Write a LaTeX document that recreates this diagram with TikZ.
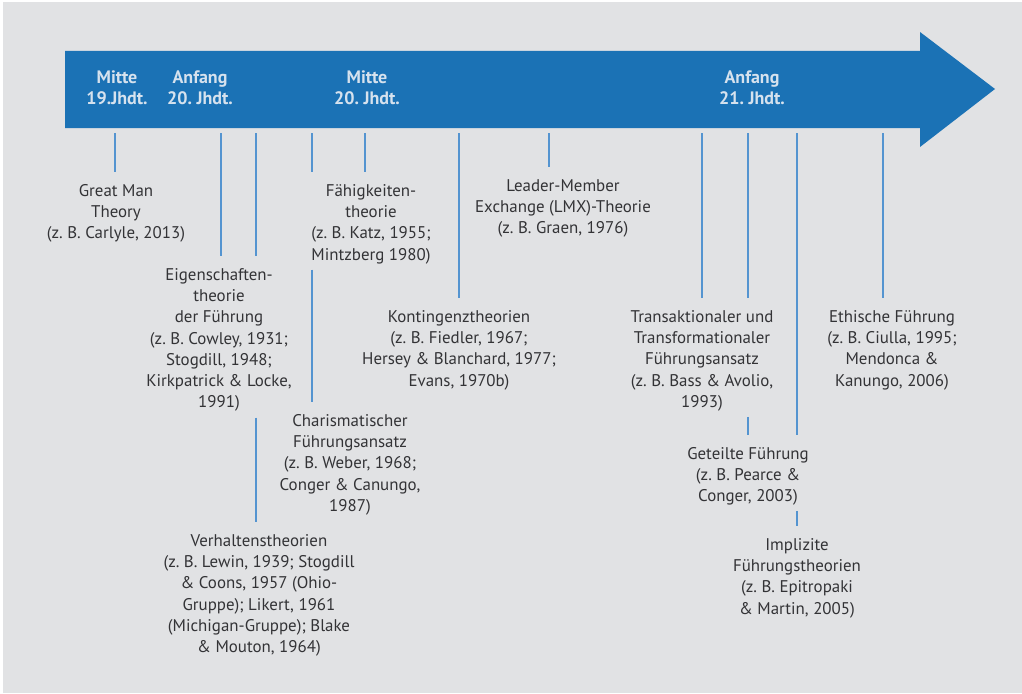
\documentclass[tikz,border=0pt]{standalone}
\usepackage{fontspec}
\setmainfont{PT Sans}
\usepackage{xcolor}
\usepackage{tikz}
\usetikzlibrary{calc,positioning}
\definecolor{bg}{RGB}{225,226,228}
\definecolor{arrowblue}{RGB}{27,114,181}
\definecolor{tickblue}{RGB}{84,148,208}
\definecolor{headtext}{RGB}{214,226,238}
\definecolor{bodytext}{RGB}{51,51,54}
\frenchspacing

\begin{document}
\begin{tikzpicture}[x=1pt,y=-1pt,
    theory/.style={align=center,inner sep=0pt,anchor=north,text=bodytext,
      font=\fontsize{16.9}{21.3}\selectfont,
      execute at begin node=\strut,execute at end node=\strut},
    era/.style={align=center,inner sep=0pt,anchor=north,text=headtext,
      font=\bfseries\fontsize{18}{21}\selectfont,
      execute at begin node=\strut,execute at end node=\strut},
    link/.style={draw=tickblue,line width=1.3pt,shorten >=12pt},
    gap/.style={link,shorten <=3pt}]
        \useasboundingbox (0,0) rectangle (1022,693);
        \fill[bg] (3,2) rectangle (1022,693);
        \fill[arrowblue] (65,51) -- (920,51) -- (920,32) -- (995,89) -- (920,147) -- (920,128) -- (65,128) -- cycle;

        \node[era] (mitte19) at (117,71) {Mitte\\19.Jhdt.};
        \node[era] (anfang20) at (200,71) {Anfang\\20. Jhdt.};
        \node[era] (mitte20) at (367,71) {Mitte\\20. Jhdt.};
        \node[era] (anfang21) at (752,71) {Anfang\\21. Jhdt.};

        \foreach \name/\x in {gm/115,ei/221,vh/256,ch/312,fa/365,ko/459,lmx/549,tr/702,ge/748,im/797,et/883}
            \coordinate (\name) at (\x,133);

        \node[theory] (greatman) at (116,184) {Great Man\\Theory\\(z. B. Carlyle, 2013)};
        \node[theory] (eigen) at (219,268) {Eigenschaften-\\theorie\\der Führung\\(z. B. Cowley, 1931;\\Stogdill, 1948;\\Kirkpatrick \& Locke,\\1991)};
        \node[theory] (faehig) at (371,184) {Fähigkeiten-\\theorie\\(z. B. Katz, 1955;\\Mintzberg 1980)};
        \node[theory] (lmxth) at (563,179) {Leader-Member\\Exchange (LMX)-Theorie\\(z. B. Graen, 1976)};
        \node[theory] (konting) at (459,310) {Kontingenztheorien\\(z. B. Fiedler, 1967;\\Hersey \& Blanchard, 1977;\\Evans, 1970b)};
        \node[theory] (charisma) at (350,414) {Charismatischer\\Führungsansatz\\(z. B. Weber, 1968;\\Conger \& Canungo,\\1987)};
        \node[theory] (verhalten) at (259,534) {Verhaltenstheorien\\(z. B. Lewin, 1939; Stogdill\\\& Coons, 1957 (Ohio-\\Gruppe); Likert, 1961\\(Michigan-Gruppe); Blake\\\& Mouton, 1964)};
        \node[theory] (trans) at (702,310) {Transaktionaler und\\Transformationaler\\Führungsansatz\\(z. B. Bass \& Avolio,\\1993)};
        \node[theory] (geteilt) at (748,447) {Geteilte Führung\\(z. B. Pearce \&\\Conger, 2003)};
        \node[theory] (implizit) at (797,538) {Implizite\\Führungstheorien\\(z. B. Epitropaki\\\& Martin, 2005)};
        \node[theory] (ethisch) at (892,310) {Ethische Führung\\(z. B. Ciulla, 1995;\\Mendonca \&\\Kanungo, 2006)};

        \draw[link] (gm) -- (gm |- greatman.north);
        \draw[link] (ei) -- (ei |- eigen.north);
        \draw[link] (vh) -- (vh |- eigen.north);
        \draw[gap] (vh |- eigen.south) -- (vh |- verhalten.north);
        \draw[link] (ch) -- (ch |- faehig.north);
        \draw[gap] (ch |- faehig.south) -- (ch |- charisma.north);
        \draw[link] (fa) -- (fa |- faehig.north);
        \draw[link] (ko) -- (ko |- konting.north);
        \draw[link] (lmx) -- (lmx |- lmxth.north);
        \draw[link] (tr) -- (tr |- trans.north);
        \draw[link] (ge) -- (ge |- trans.north);
        \draw[gap] (ge |- trans.south) -- (ge |- geteilt.north);
        \draw[link] (im) -- (im |- geteilt.north);
        \draw[gap] (im |- geteilt.south) -- (im |- implizit.north);
        \draw[link] (et) -- (et |- ethisch.north);
    \end{tikzpicture}
\end{document}
